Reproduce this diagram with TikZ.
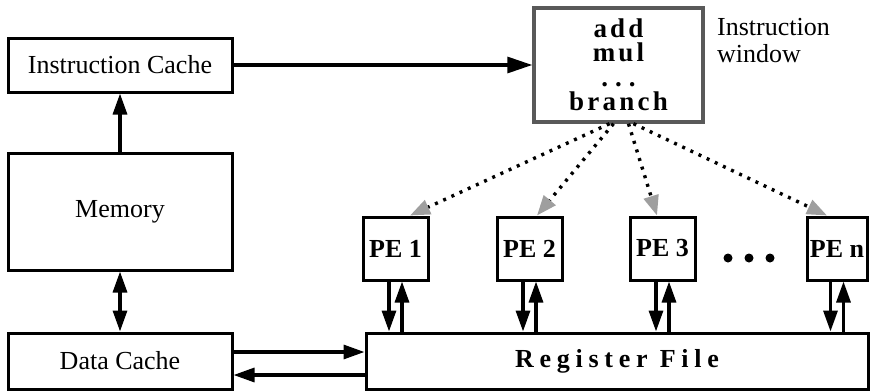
\documentclass[tikz,border=0pt]{standalone}
\usepackage{fontspec}
\setmainfont{Liberation Serif}
\newfontfamily\widefont[LetterSpace=12]{Liberation Serif}
\newfontfamily\widerfont[LetterSpace=22]{Liberation Serif}
\usetikzlibrary{arrows.meta}

\begin{document}
\begin{tikzpicture}[x=1pt,y=-1pt,
    box/.style={draw,line width=3pt,inner sep=0pt,font=\fontsize{26}{28}\selectfont},
    pebox/.style={box,minimum width=65pt,minimum height=63pt,font=\fontsize{26}{28}\selectfont\bfseries},
    bus/.style={line width=3.2pt,-{Triangle[length=21pt,width=14pt]}},
    dbus/.style={line width=3.2pt,{Triangle[length=21pt,width=14pt]}-{Triangle[length=21pt,width=14pt]}},
    issue/.style={line width=3.4pt,dash pattern=on 3pt off 6pt,
        -{Triangle[length=20pt,width=15pt,fill=gray!75,color=gray!75]}}]

    \useasboundingbox (0,0) rectangle (873,391);

    % Memory side
    \node[box,minimum width=224pt,minimum height=54pt] (icache) at (120,65) {Instruction Cache};
    \node[box,minimum width=224pt,minimum height=117pt] (mem) at (120,211.5) {Memory};
    \node[box,minimum width=224pt,minimum height=56pt] (dcache) at (120,361) {Data Cache};

    % Register file
    \node[box,minimum width=502pt,minimum height=56pt,
        font=\fontsize{26}{28}\selectfont\widerfont\bfseries] (regs) at (617,361) {Register File};

    % Instruction window
    \node[box,draw=black!65,line width=3.4pt,minimum width=169pt,minimum height=114pt,align=center,
        font=\fontsize{27}{24.5}\selectfont\widefont\bfseries] (iwin) at (618.5,65)
        {add\\mul\\.\hspace{7pt}.\hspace{7pt}.\\branch};
    \node[anchor=north west,align=left,inner sep=0pt,
        font=\fontsize{26}{27}\selectfont] (iwlabel) at (717,18) {Instruction\\window};

    % Processing elements
    \foreach \i/\x in {1/395.5,2/529.5,3/662.5} {
        \node[pebox] (pe\i) at (\x,248.5) {PE \i};
    }
    \node[pebox,minimum width=60pt] (pen) at (837,248.5) {PE n};
    \fill (728,258) circle (4.5pt) (749,258) circle (4.5pt) (770,258) circle (4.5pt);

    % Connections
    \draw[bus,-{Triangle[length=25pt,width=16pt]}] (icache.east) -- (iwin.west);
    \draw[bus] (mem.north) -- (icache.south);
    \draw[dbus] (mem.south) -- (dcache.north);
    \draw[bus] ([yshift=9pt]dcache.east) -- ([yshift=9pt]regs.west);
    \draw[bus] ([yshift=-14pt]regs.west) -- ([yshift=-14pt]dcache.east);

    \foreach \p in {pe1,pe2,pe3,pen} {
        \draw[bus] ([xshift=-6.5pt]\p.south) -- ([xshift=-6.5pt]\p.south |- regs.north);
        \draw[bus] ([xshift=6.5pt]\p.south |- regs.north) -- ([xshift=6.5pt]\p.south);
    }

    % Issue to the PEs
    \draw[issue] ([xshift=-9pt]iwin.south) -- ([xshift=14.5pt]pe1.north);
    \draw[issue] ([xshift=-5pt]iwin.south) -- ([xshift=7.5pt]pe2.north);
    \draw[issue] ([xshift=10pt]iwin.south) -- ([xshift=-5.5pt]pe3.north);
    \draw[issue] ([xshift=15pt]iwin.south) -- ([xshift=-10pt]pen.north);

\end{tikzpicture}
\end{document}
